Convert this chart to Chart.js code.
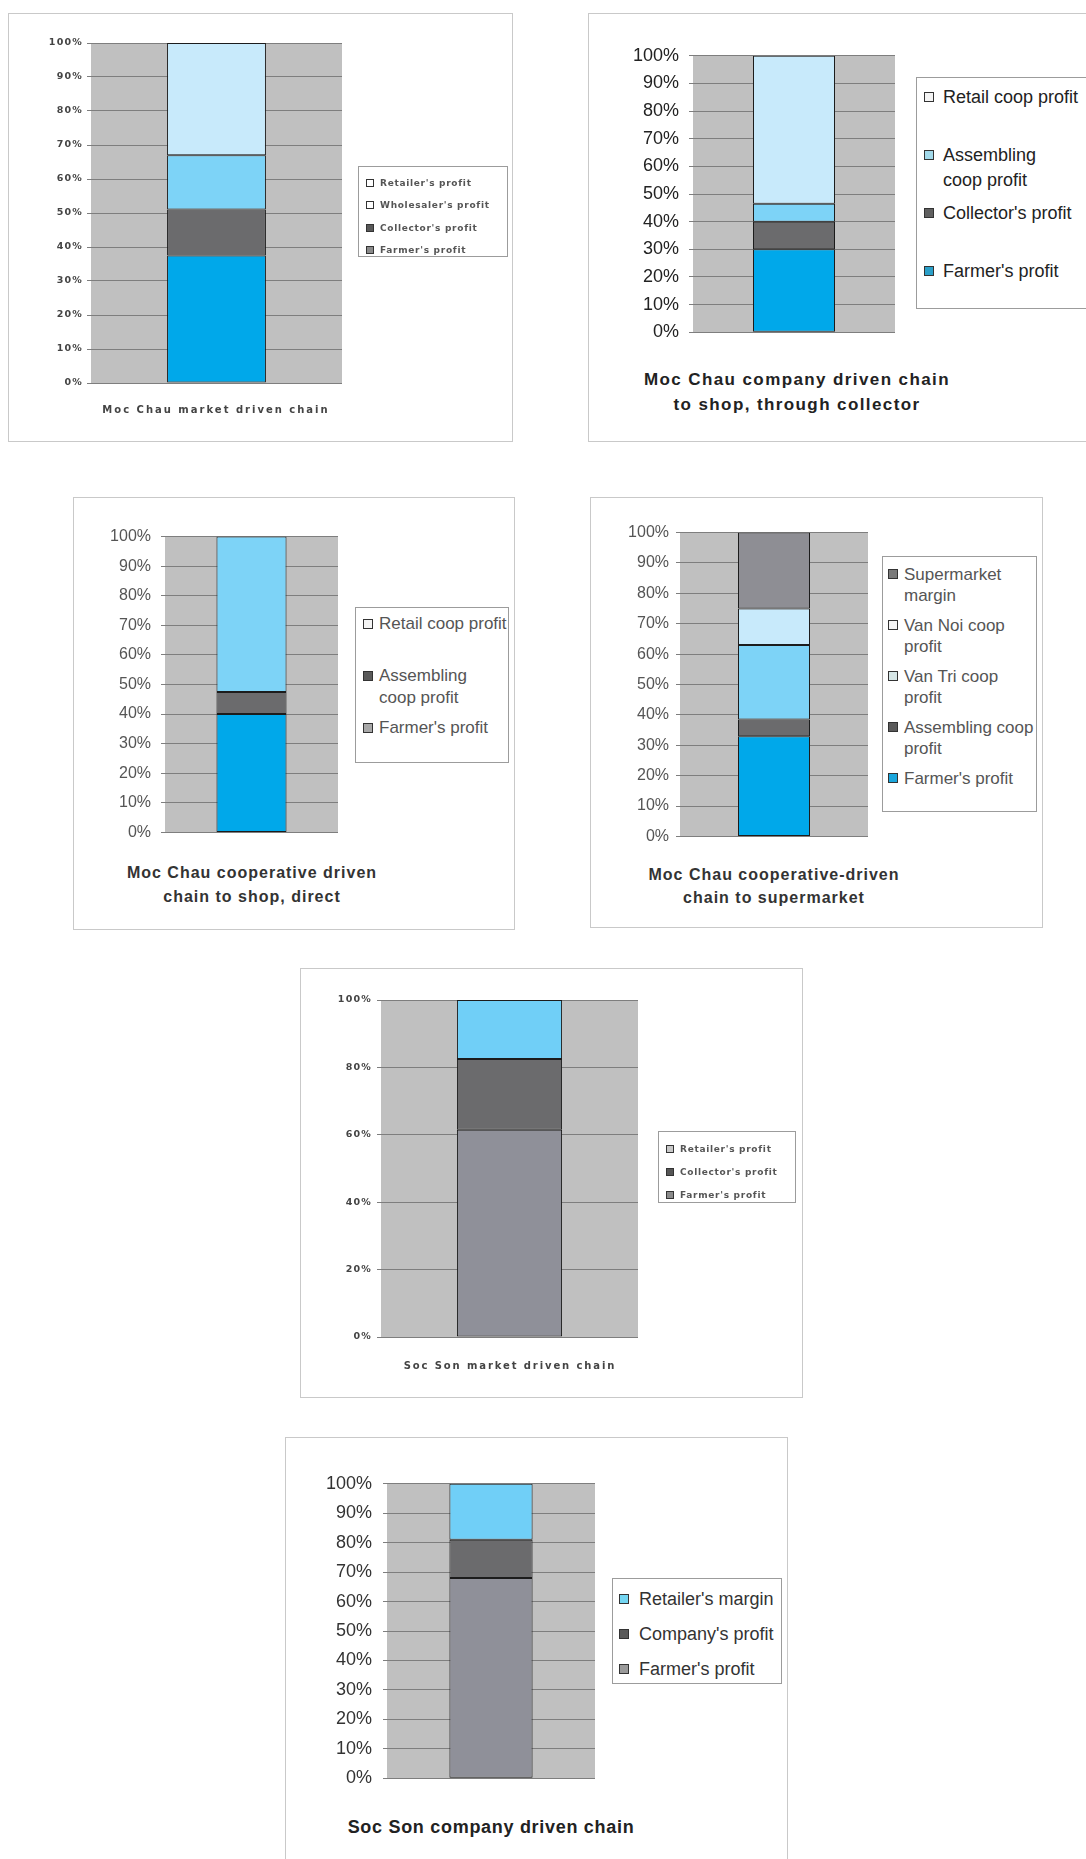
<!DOCTYPE html>
<html>
<head>
<meta charset="utf-8">
<title>Profit distribution along vegetable chains</title>
<script src="https://cdn.jsdelivr.net/npm/chart.js@4.4.1/dist/chart.umd.min.js"></script>
<style>
  body { margin: 0; background: #fff; width: 1086px; height: 1859px; position: relative; overflow: hidden; }
  .frame { position: absolute; border: 1px solid #c9c9c9; box-sizing: border-box; }
  .legend { position: absolute; border: 1px solid #9c9c9c; background: #fff; box-sizing: border-box; }
  .legend .sw { position: absolute; border: 1px solid #333; box-sizing: border-box; }
  .legend .txt { position: absolute; white-space: pre; }
  .title { position: absolute; text-align: center; white-space: pre; width: 460px; }
  .soft { filter: blur(0.35px); }
  canvas { position: absolute; }
</style>
</head>
<body>
<script>
// chain names, drawn under each bar
const panelTitles = [
  'Moc Chau market driven chain',
  'Moc Chau company driven chain\nto shop, through collector',
  'Moc Chau cooperative driven\nchain to shop, direct',
  'Moc Chau cooperative-driven\nchain to supermarket',
  'Soc Son market driven chain',
  'Soc Son company driven chain'
];

// stack members, bottom segment first, shares in percent
const mcMarketSeries = ["Farmer's profit", "Collector's profit", "Wholesaler's profit", "Retailer's profit"];
const mcMarketShares = [37.5, 13.5, 16, 33];

const mcCompanySeries = ["Farmer's profit", "Collector's profit", "Assembling\ncoop profit", "Retail coop profit"];
const mcCompanyShares = [30, 10, 6.5, 53.5];

const mcCoopShopSeries = ["Farmer's profit", "Assembling\ncoop profit", "Retail coop profit"];
const mcCoopShopShares = [40, 7.5, 52.5];

const mcCoopMarketSeries = ["Farmer's profit", "Assembling coop\nprofit", "Van Tri coop\nprofit", "Van Noi coop\nprofit", "Supermarket\nmargin"];
const mcCoopMarketShares = [33, 5.5, 24.5, 12, 25];

const ssMarketSeries = ["Farmer's profit", "Collector's profit", "Retailer's profit"];
const ssMarketShares = [61.5, 21, 17.5];

const ssCompanySeries = ["Farmer's profit", "Company's profit", "Retailer's margin"];
const ssCompanyShares = [68, 13, 19];

// y axis ticks
const tenStepTicks = [0, 10, 20, 30, 40, 50, 60, 70, 80, 90, 100];
const twentyStepTicks = [0, 20, 40, 60, 80, 100];

const BLUE = '#00a8ea', DARK = '#6b6b6d', MID = '#7dd3f7', PALE = '#c8eafb';
const GREYBAR = '#8f9099', CYAN = '#70cff7';

const arial = '"Liberation Sans", Arial, sans-serif';
const dejavu = '"DejaVu Sans", Verdana, sans-serif';

const panels = [
  {
    series: mcMarketSeries, shares: mcMarketShares, ticks: tenStepTicks,
    colors: [BLUE, DARK, MID, PALE], swatches: ['#8a8a8a', '#585858', '#ffffff', '#ffffff'],
    frame: [8, 13, 505, 429], plot: [91, 43, 251, 340], axisW: 50, barFrac: 0.394, soft: true,
    tick: { family: dejavu, size: 9.5, weight: 'bold', color: '#444', pad: 4, ls: '1.2px' },
    legend: { box: [358, 166, 150, 91], padTop: 5, slot: 22.3, center: 11, lh: 12, swX: 7, sw: 8, txX: 21,
              font: 'bold 9px ' + dejavu, ls: '0.7px', color: '#555' },
    title: { cx: 216, y: 410, lh: 14, font: 'bold 10px ' + dejavu, ls: '2px', color: '#444' }
  },
  {
    series: mcCompanySeries, shares: mcCompanyShares, ticks: tenStepTicks,
    colors: [BLUE, DARK, MID, PALE], swatches: ['#2a9fc8', '#606060', '#a2d9ea', '#f4f4f4'],
    frame: [588, 13, 520, 429], plot: [693, 47, 202, 294], axisW: 70, barFrac: 0.406,
    tick: { family: arial, size: 18, weight: 'normal', color: '#222', pad: 10 },
    legend: { box: [916, 77, 200, 232], padTop: 0, slot: 58, center: 19, lh: 25, swX: 7, sw: 10, txX: 26,
              font: '18px ' + arial, color: '#222' },
    title: { cx: 797, y: 379, lh: 25, font: 'bold 17px ' + arial, ls: '1.4px', color: '#222' }
  },
  {
    series: mcCoopShopSeries, shares: mcCoopShopShares, ticks: tenStepTicks,
    colors: [BLUE, DARK, MID], swatches: ['#a8a8a8', '#5a5a5a', '#f4f4f4'],
    frame: [73, 497, 442, 433], plot: [165, 529, 173, 311], axisW: 70, barFrac: 0.405,
    tick: { family: arial, size: 16, weight: 'normal', color: '#555', pad: 10 },
    legend: { box: [355, 607, 154, 156], padTop: 0, slot: 52, center: 16, lh: 22, swX: 7, sw: 10, txX: 23,
              font: '17px ' + arial, color: '#555' },
    title: { cx: 252, y: 873, lh: 24, font: 'bold 16px ' + arial, ls: '1px', color: '#333' }
  },
  {
    series: mcCoopMarketSeries, shares: mcCoopMarketShares, ticks: tenStepTicks,
    colors: [BLUE, DARK, MID, PALE, '#8e8e94'], swatches: ['#1aa6dc', '#5a5a5a', '#d6e6e6', '#f4f4f4', '#7a7a7a'],
    frame: [590, 497, 453, 431], plot: [680, 528, 188, 313], axisW: 70, barFrac: 0.383,
    tick: { family: arial, size: 16, weight: 'normal', color: '#555', pad: 7 },
    legend: { box: [882, 556, 155, 256], padTop: 0, slot: 51, center: 17, lh: 21, swX: 5, sw: 10, txX: 21,
              font: '17px ' + arial, color: '#555' },
    title: { cx: 774, y: 874, lh: 23, font: 'bold 16px ' + arial, ls: '1px', color: '#333' }
  },
  {
    series: ssMarketSeries, shares: ssMarketShares, ticks: twentyStepTicks,
    colors: [GREYBAR, DARK, CYAN], swatches: ['#8a8a8a', '#555555', '#c8c8c8'],
    frame: [300, 968, 503, 430], plot: [381, 1000, 257, 337], axisW: 50, barFrac: 0.409, soft: true,
    tick: { family: dejavu, size: 9.5, weight: 'bold', color: '#444', pad: 5, ls: '1.2px' },
    legend: { box: [658, 1131, 138, 72], padTop: 5, slot: 23, center: 12, lh: 12, swX: 7, sw: 8, txX: 21,
              font: 'bold 9px ' + dejavu, ls: '0.7px', color: '#555' },
    title: { cx: 510, y: 1366, lh: 14, font: 'bold 10px ' + dejavu, ls: '1.9px', color: '#444' }
  },
  {
    series: ssCompanySeries, shares: ssCompanyShares, ticks: tenStepTicks,
    colors: [GREYBAR, DARK, CYAN], swatches: ['#9a9a9a', '#5a5a5a', '#74d6f2'],
    frame: [285, 1437, 503, 440], plot: [387, 1474, 208, 314], axisW: 70, barFrac: 0.40,
    tick: { family: arial, size: 18, weight: 'normal', color: '#333', pad: 11 },
    legend: { box: [612, 1578, 170, 106], padTop: 2, slot: 35, center: 18, lh: 22, swX: 6, sw: 10, txX: 26,
              font: '18px ' + arial, color: '#333' },
    title: { cx: 491, y: 1827, lh: 24, font: 'bold 18px ' + arial, ls: '0.7px', color: '#222' }
  }
];

// grey plot background behind the grid
const plotBg = {
  id: 'plotBg',
  beforeDraw(chart, args, opts) {
    const { ctx, chartArea: a } = chart;
    ctx.save();
    ctx.fillStyle = opts.color;
    ctx.fillRect(a.left, a.top, a.width, a.height);
    ctx.restore();
    if (opts.letterSpacing) ctx.letterSpacing = opts.letterSpacing;
  },
  afterDraw(chart) {
    chart.ctx.letterSpacing = '0px';
  }
};

function place(el, x, y, w, h) {
  el.style.left = x + 'px';
  el.style.top = y + 'px';
  if (w != null) el.style.width = w + 'px';
  if (h != null) el.style.height = h + 'px';
}

panels.forEach((p, idx) => {
  const frame = document.createElement('div');
  frame.className = 'frame';
  place(frame, ...p.frame);
  document.body.appendChild(frame);

  // canvas sized so the chart area lands on the plot rectangle
  const padT = 12, padB = 12, padR = 4;
  const [px, py, pw, ph] = p.plot;
  const canvas = document.createElement('canvas');
  const cw = p.axisW + pw + padR, ch = padT + ph + padB;
  canvas.width = cw;
  canvas.height = ch;
  place(canvas, px - p.axisW, py - padT, cw, ch);
  document.body.appendChild(canvas);

  new Chart(canvas.getContext('2d'), {
    type: 'bar',
    data: {
      labels: [panelTitles[idx]],
      datasets: p.series.map((name, i) => ({
        label: name,
        data: [p.shares[i]],
        backgroundColor: p.colors[i],
        borderColor: '#1c1c1c',
        borderWidth: 1,
        borderSkipped: false,
        categoryPercentage: 1,
        barPercentage: p.barFrac
      }))
    },
    options: {
      responsive: false,
      animation: false,
      layout: { padding: { top: padT, bottom: padB, left: 0, right: padR } },
      plugins: {
        legend: { display: false },
        tooltip: { enabled: false },
        plotBg: { color: '#c0c0c0', letterSpacing: p.tick.ls }
      },
      scales: {
        x: { stacked: true, display: false },
        y: {
          stacked: true,
          min: 0,
          max: 100,
          afterBuildTicks: scale => { scale.ticks = p.ticks.map(v => ({ value: v })); },
          afterFit: scale => { scale.width = p.axisW; },
          border: { display: false },
          grid: { color: '#7e7e7e', lineWidth: 1, tickLength: 4, drawTicks: true },
          ticks: {
            padding: p.tick.pad,
            color: p.tick.color,
            font: { family: p.tick.family, size: p.tick.size, weight: p.tick.weight },
            callback: v => v + '%'
          }
        }
      }
    },
    plugins: [plotBg]
  });

  // legend, top segment listed first
  const lg = p.legend;
  const box = document.createElement('div');
  box.className = 'legend';
  place(box, ...lg.box);
  const order = p.series.map((s, i) => i).reverse();
  order.forEach((si, k) => {
    const top = lg.padTop + k * lg.slot;
    const sw = document.createElement('div');
    sw.className = 'sw';
    sw.style.background = p.swatches[si];
    place(sw, lg.swX, top + lg.center - lg.sw / 2, lg.sw, lg.sw);
    box.appendChild(sw);
    const tx = document.createElement('div');
    tx.className = 'txt' + (p.soft ? ' soft' : '');
    tx.textContent = p.series[si];
    tx.style.font = lg.font;
    tx.style.lineHeight = lg.lh + 'px';
    tx.style.color = lg.color;
    if (lg.ls) tx.style.letterSpacing = lg.ls;
    place(tx, lg.txX, top + lg.center - lg.lh / 2);
    box.appendChild(tx);
  });
  document.body.appendChild(box);

  const t = p.title;
  const title = document.createElement('div');
  title.className = 'title' + (p.soft ? ' soft' : '');
  title.textContent = panelTitles[idx];
  title.style.font = t.font;
  title.style.lineHeight = t.lh + 'px';
  title.style.color = t.color;
  title.style.letterSpacing = t.ls;
  place(title, t.cx - 230, t.y - t.lh / 2);
  document.body.appendChild(title);
});
</script>
</body>
</html>
